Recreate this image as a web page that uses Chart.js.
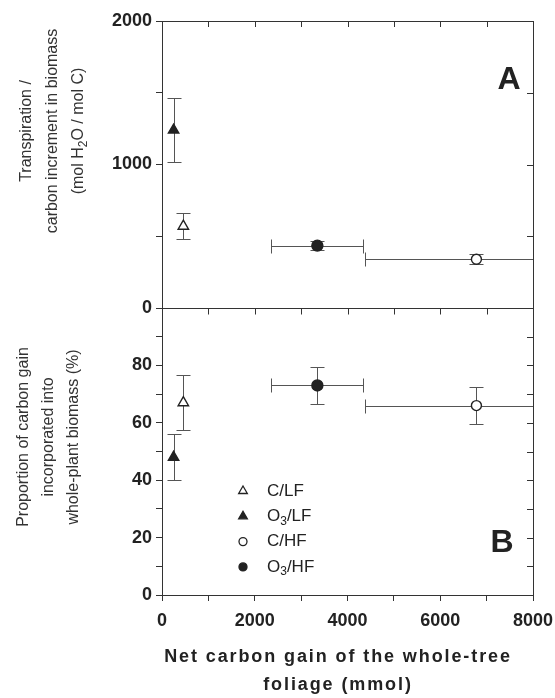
<!DOCTYPE html>
<html>
<head>
<meta charset="utf-8">
<script src="https://cdn.jsdelivr.net/npm/chart.js@4.4.1/dist/chart.umd.min.js"></script>
<style>
  html, body { margin: 0; padding: 0; background: #fff; }
  #wrap { position: relative; width: 555px; height: 698px; }
</style>
</head>
<body>
<div id="wrap"><canvas id="chart" width="555" height="698"></canvas></div>
<script>
// Treatment groups: C = control air, O3 = ozone; LF / HF = low / high fertility
const groups = ['C/LF', 'O3/LF', 'C/HF', 'O3/HF']
const netCarbonGain = [460, 250, 6780, 3350]          // mmol
const netCarbonGainErr = [0, 0, 2410, 990]
const transpirationRatio = [570, 1240, 340, 435]      // mol H2O / mol C
const transpirationRatioErr = [90, 225, 35, 30]
const carbonIncorporated = [67, 48, 66, 73]           // %
const carbonIncorporatedErr = [9.5, 8, 6.5, 6.3]

// Tick labels
const xTicks = [0, 2000, 4000, 6000, 8000]
const yTicksA = [0, 1000, 2000]
const yTicksB = [0, 20, 40, 60, 80]

// Marker per group
const markerStyle = ['triangle', 'triangle', 'circle', 'circle']
const markerFill = ['#fff', '#222', '#fff', '#222']
const markerRadius = [6, 6, 5, 5.5]

const FONT = '"Liberation Sans", Arial, Helvetica, sans-serif'
const INK = '#222'
const BOLD_SPACING = '1.6px'

// Split "O3/LF" or "H2O" into parts with subscript digits
function richParts(text) {
  const parts = []
  let last = 0
  text.replace(/([A-Z])(\d)/g, (m, letter, digit, offset) => {
    parts.push({ t: text.slice(last, offset + 1) })
    parts.push({ t: digit, sub: true })
    last = offset + 2
    return m
  })
  parts.push({ t: text.slice(last) })
  return parts
}

function drawRich(ctx, text, x, y, size, weight, align) {
  const parts = richParts(text)
  const fontOf = p => `${weight} ${p.sub ? Math.round(size * 0.72) : size}px ${FONT}`
  let total = 0
  parts.forEach(p => { ctx.font = fontOf(p); p.w = ctx.measureText(p.t).width; total += p.w })
  let cx = align === 'center' ? x - total / 2 : x
  ctx.textAlign = 'left'
  ctx.textBaseline = 'middle'
  parts.forEach(p => {
    ctx.font = fontOf(p)
    ctx.fillText(p.t, cx, p.sub ? y + size * 0.3 : y)
    cx += p.w
  })
}

const makePoints = yv => groups.map((g, i) => ({ x: netCarbonGain[i], y: yv[i] }))

// The printed figure uses a wide bold face for the tick labels
const spacingPlugin = {
  id: 'spacing',
  beforeInit(chart) { chart.ctx.letterSpacing = BOLD_SPACING },
}

// Frame, inward ticks on top/right/middle, and error bars
const framePlugin = {
  id: 'frame',
  beforeDatasetsDraw(chart) {
    const { ctx, chartArea: a, scales } = chart
    const midY = Math.round(scales.yA.bottom) + 0.5
    ctx.save()
    ctx.strokeStyle = '#333'
    ctx.lineWidth = 1
    ctx.beginPath()
    ctx.moveTo(a.left, Math.round(a.top) + 0.5); ctx.lineTo(a.right, Math.round(a.top) + 0.5)
    ctx.moveTo(Math.round(a.right) + 0.5, a.top); ctx.lineTo(Math.round(a.right) + 0.5, a.bottom)
    ctx.moveTo(a.left, midY); ctx.lineTo(a.right, midY)
    const tl = 6
    scales.x.ticks.forEach(t => {
      const px = Math.round(scales.x.getPixelForValue(t.value)) + 0.5
      ctx.moveTo(px, a.top); ctx.lineTo(px, a.top + tl)
      ctx.moveTo(px, midY); ctx.lineTo(px, midY + tl)
    })
    ;['yA', 'yB'].forEach(id => {
      const s = scales[id]
      s.ticks.forEach(t => {
        const py = Math.round(s.getPixelForValue(t.value)) + 0.5
        ctx.moveTo(a.right, py); ctx.lineTo(a.right - tl, py)
      })
    })
    ctx.stroke()

    // error bars
    ctx.beginPath()
    ctx.rect(a.left, a.top, a.width, a.height)
    ctx.clip()
    ctx.strokeStyle = '#555'
    const cap = 7
    chart.data.datasets.forEach(ds => {
      const xs = scales.x, ys = scales[ds.yAxisID]
      ds.data.forEach((p, i) => {
        const cx = Math.round(xs.getPixelForValue(p.x)) + 0.5
        const cy = Math.round(ys.getPixelForValue(p.y)) + 0.5
        const ex = ds.errX[i], ey = ds.errY[i]
        ctx.beginPath()
        if (ey) {
          const y1 = Math.round(ys.getPixelForValue(p.y + ey)) + 0.5
          const y2 = Math.round(ys.getPixelForValue(p.y - ey)) + 0.5
          ctx.moveTo(cx, y1); ctx.lineTo(cx, y2)
          ctx.moveTo(cx - cap, y1); ctx.lineTo(cx + cap, y1)
          ctx.moveTo(cx - cap, y2); ctx.lineTo(cx + cap, y2)
        }
        if (ex) {
          const x1 = Math.round(xs.getPixelForValue(p.x - ex)) + 0.5
          const x2 = Math.round(xs.getPixelForValue(p.x + ex)) + 0.5
          ctx.moveTo(x1, cy); ctx.lineTo(x2, cy)
          ctx.moveTo(x1, cy - cap); ctx.lineTo(x1, cy + cap)
          ctx.moveTo(x2, cy - cap); ctx.lineTo(x2, cy + cap)
        }
        ctx.stroke()
      })
    })
    ctx.restore()
  }
}

// Panel letters, legend, x title and the rotated y titles
const annotatePlugin = {
  id: 'annotate',
  afterDraw(chart) {
    const { ctx, chartArea: a } = chart
    ctx.save()

    // x title (drawn here so it can sit a little left of centre, as printed)
    ctx.letterSpacing = '1.9px'
    ctx.fillStyle = INK
    ctx.font = `bold 18px ${FONT}`
    ctx.textAlign = 'center'
    ctx.textBaseline = 'middle'
    ctx.fillText('Net carbon gain of the whole-tree', a.left + 176, a.bottom + 62)
    ctx.fillText('foliage (mmol)', a.left + 176, a.bottom + 90)

    ctx.letterSpacing = '0px'
    ctx.font = `bold 32px ${FONT}`
    ctx.fillText('A', a.right - 24, a.top + 59)
    ctx.fillText('B', a.right - 31, a.bottom - 52)

    // legend
    const lx = a.left + 81
    groups.forEach((g, i) => {
      const ly = a.bottom - 104 + i * 25.3
      ctx.strokeStyle = INK
      ctx.fillStyle = markerFill[i]
      ctx.lineWidth = 1.3
      Chart.helpers.drawPoint(ctx, {
        pointStyle: markerStyle[i], radius: markerStyle[i] === 'triangle' ? 5 : 4, borderWidth: 1.3
      }, lx, ly)
      ctx.fillStyle = INK
      drawRich(ctx, g, lx + 24, ly, 17, 'normal', 'left')
    })

    // y titles
    ctx.fillStyle = '#333'
    const titleA = ['Transpiration /', 'carbon increment in biomass', '(mol H2O / mol C)']
    const titleB = ['Proportion of carbon gain', 'incorporated into', 'whole-plant biomass (%)']
    const drawTitle = (lines, xs, cy) => {
      lines.forEach((line, i) => {
        ctx.save()
        ctx.translate(xs[i], cy)
        ctx.rotate(-Math.PI / 2)
        drawRich(ctx, line, 0, 0, 16, 'normal', 'center')
        ctx.restore()
      })
    }
    drawTitle(titleA, [27, 53, 79], 131)
    drawTitle(titleB, [24, 49, 74], 437)
    ctx.restore()
  }
}

const tickFont = { family: FONT, size: 18, weight: 'bold' }

new Chart(document.getElementById('chart'), {
  type: 'scatter',
  data: {
    datasets: [
      {
        label: 'B',
        yAxisID: 'yB',
        data: makePoints(carbonIncorporated),
        errX: netCarbonGainErr,
        errY: carbonIncorporatedErr,
        pointStyle: markerStyle,
        pointRadius: markerRadius,
        pointBackgroundColor: markerFill,
        pointBorderColor: INK,
        pointBorderWidth: 1.4,
        clip: false,
      },
      {
        label: 'A',
        yAxisID: 'yA',
        data: makePoints(transpirationRatio),
        errX: netCarbonGainErr,
        errY: transpirationRatioErr,
        pointStyle: markerStyle,
        pointRadius: markerRadius,
        pointBackgroundColor: markerFill,
        pointBorderColor: INK,
        pointBorderWidth: 1.4,
        clip: false,
      },
    ],
  },
  options: {
    responsive: false,
    devicePixelRatio: 1,
    animation: false,
    events: [],
    layout: { padding: { top: 21, right: 22, left: 0, bottom: 0 } },
    plugins: { legend: { display: false }, tooltip: { enabled: false } },
    scales: {
      x: {
        type: 'linear',
        min: 0,
        max: 8000,
        afterBuildTicks: s => { s.ticks = [0, 1000, 2000, 3000, 4000, 5000, 6000, 7000, 8000].map(v => ({ value: v })) },
        ticks: {
          autoSkip: false,
          maxRotation: 0,
          padding: 9,
          color: INK,
          font: tickFont,
          callback: v => (xTicks.includes(v) ? v : ''),
        },
        grid: { drawOnChartArea: false, tickLength: 6, color: '#333' },
        border: { color: '#333', width: 1 },
        afterFit: s => { s.height = 103; s.paddingLeft = 0; s.paddingRight = 0 },
      },
      yB: {
        type: 'linear',
        position: 'left',
        stack: 'panels',
        stackWeight: 1,
        min: 0,
        max: 100,
        ticks: {
          stepSize: 10,
          autoSkip: false,
          padding: 4,
          color: INK,
          font: tickFont,
          callback: v => (yTicksB.includes(v) ? v : ''),
        },
        grid: { drawOnChartArea: false, tickLength: 6, color: '#333' },
        border: { color: '#333', width: 1 },
        afterFit: s => { s.width = 162 },
      },
      yA: {
        type: 'linear',
        position: 'left',
        stack: 'panels',
        stackWeight: 1,
        min: 0,
        max: 2000,
        ticks: {
          stepSize: 500,
          autoSkip: false,
          padding: 4,
          color: INK,
          font: tickFont,
          callback: v => (yTicksA.includes(v) ? v : ''),
        },
        grid: { drawOnChartArea: false, tickLength: 6, color: '#333' },
        border: { color: '#333', width: 1 },
        afterFit: s => { s.width = 162 },
      },
    },
  },
  plugins: [spacingPlugin, framePlugin, annotatePlugin],
})
</script>
</body>
</html>
